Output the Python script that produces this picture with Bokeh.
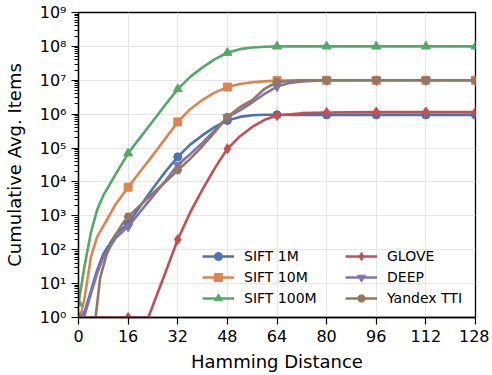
from bokeh.plotting import figure
from bokeh.models import FixedTicker, Legend, LegendItem, Range1d
from bokeh.embed import file_html
from bokeh.resources import INLINE

# ---------------- data ----------------
x_ticks = [0, 16, 32, 48, 64, 80, 96, 112, 128]
y_ticks = [1e0, 1e1, 1e2, 1e3, 1e4, 1e5, 1e6, 1e7, 1e8, 1e9]
y_tick_labels = ["10⁰", "10¹", "10²", "10³", "10⁴", "10⁵", "10⁶", "10⁷", "10⁸", "10⁹"]

labels = ["SIFT 1M", "SIFT 10M", "SIFT 100M", "GLOVE", "DEEP", "Yandex TTI"]

sift1m_x = [0, 2, 4, 6, 8, 12, 16, 20, 24, 28, 32, 36, 40, 44, 48, 52, 56, 60, 64, 72, 80, 96, 112, 128]
sift1m_y = [1, 1.5, 6, 25, 75, 280, 600, 2000, 6500, 2.0e4, 5.5e4, 1.26e5, 2.4e5, 4.2e5,
            6.5e5, 8.3e5, 9.3e5, 9.6e5, 9.6e5, 9.5e5, 9.5e5, 9.5e5, 9.5e5, 9.5e5]

sift10m_x = [0, 1, 2, 4, 6, 8, 12, 16, 20, 24, 28, 32, 36, 40, 44, 48, 52, 56, 60, 64, 72, 80, 96, 112, 128]
sift10m_y = [1, 1.5, 4, 60, 240, 500, 2200, 7000, 2.1e4, 6.2e4, 1.9e5, 5.9e5, 1.4e6, 2.65e6,
             4.4e6, 6.3e6, 7.8e6, 8.7e6, 9.3e6, 9.8e6, 1.0e7, 1.0e7, 1.0e7, 1.0e7, 1.0e7]

sift100m_x = [0, 2, 4, 6, 8, 12, 16, 20, 24, 28, 32, 36, 40, 44, 48, 52, 56, 60, 64, 72, 80, 96, 112, 128]
sift100m_y = [2.6, 35, 320, 1500, 4000, 1.7e4, 7.0e4, 2.1e5, 6.3e5, 1.9e6, 5.5e6, 1.26e7, 2.4e7,
              4.2e7, 6.5e7, 8.3e7, 9.3e7, 9.8e7, 1.0e8, 1.0e8, 1.0e8, 1.0e8, 1.0e8, 1.0e8]

glove_x = [0, 16, 22.5, 24, 28, 32, 36, 40, 44, 48, 52, 56, 60, 64, 72, 80, 96, 112, 128]
glove_y = [1, 1, 1, 2.3, 21, 200, 1260, 6000, 2.6e4, 9.5e4, 2.2e5, 4.2e5, 6.8e5, 9.1e5,
           1.07e6, 1.12e6, 1.15e6, 1.15e6, 1.15e6]

deep_x = [0, 2, 4, 6, 8, 12, 16, 20, 24, 28, 32, 36, 40, 44, 48, 52, 56, 60, 64, 68, 72, 80, 96, 112, 128]
deep_y = [1, 1.2, 5, 20, 60, 220, 480, 1350, 3800, 1.07e4, 3.2e4, 6.6e4, 1.45e5, 3.4e5, 8.0e5,
          1.3e6, 2.2e6, 4.0e6, 6.5e6, 8.3e6, 9.3e6, 1.0e7, 1.0e7, 1.0e7, 1.0e7]

yandex_x = [0, 4, 5.5, 7, 9, 12, 14, 16, 20, 24, 28, 32, 36, 40, 44, 48, 52, 56, 60, 64, 72,
            80, 96, 112, 128]
yandex_y = [1, 1, 1, 15, 70, 280, 550, 950, 2100, 4700, 1.0e4, 2.2e4, 4.8e4, 1.15e5, 3.0e5,
            8.3e5, 1.6e6, 2.6e6, 5.6e6, 8.9e6, 1.0e7, 1.0e7, 1.0e7, 1.0e7, 1.0e7]

series_x = [sift1m_x, sift10m_x, sift100m_x, glove_x, deep_x, yandex_x]
series_y = [sift1m_y, sift10m_y, sift100m_y, glove_y, deep_y, yandex_y]

# ---------------- styling ----------------
colors = ["#4C72B0", "#DD8452", "#55A868", "#C44E52", "#8172B3", "#937860"]
markers = ["circle", "square", "triangle", "diamond", "inverted_triangle", "hex"]
msizes = [8, 8, 9, 10, 9, 8]
FONT = "DejaVu Sans"

p = figure(frame_width=397, frame_height=305,
           x_range=Range1d(0, 128), y_range=Range1d(1, 1e9),
           y_axis_type="log", output_backend="svg", toolbar_location=None,
           min_border_left=76, min_border_right=14, min_border_top=12,
           min_border_bottom=50)

p.background_fill_color = "white"
p.border_fill_color = "white"
p.outline_line_color = "black"
p.outline_line_width = 1.3
p.outline_line_alpha = 1.0

minor = [k * 10 ** e for e in range(0, 9) for k in range(2, 10)]
p.yaxis.ticker = FixedTicker(ticks=y_ticks, minor_ticks=minor)
p.xaxis.ticker = FixedTicker(ticks=x_ticks)
p.yaxis.major_label_overrides = {int(v): s for v, s in zip(y_ticks, y_tick_labels)}

for ax in (p.xaxis, p.yaxis):
    ax.axis_line_width = 1.3
    ax.axis_line_color = "black"
    ax.major_tick_line_width = 1.2
    ax.major_tick_line_color = "black"
    ax.major_tick_out = 7
    ax.major_tick_in = 0
    ax.major_label_text_font = FONT
    ax.major_label_text_font_size = "16px"
    ax.major_label_text_color = "black"
    ax.major_label_standoff = 5
    ax.axis_label_text_font = FONT
    ax.axis_label_text_font_size = "18px"
    ax.axis_label_text_font_style = "normal"
    ax.axis_label_text_color = "black"

p.xaxis.minor_tick_line_color = None
p.yaxis.minor_tick_out = 4
p.yaxis.minor_tick_in = 0
p.yaxis.minor_tick_line_color = "black"
p.yaxis.minor_tick_line_width = 1
p.xaxis.axis_label = "Hamming Distance"
p.yaxis.axis_label = "Cumulative Avg. Items"
p.xaxis.axis_label_standoff = 6
p.yaxis.axis_label_standoff = 12

p.xgrid.grid_line_color = "#e6e6e6"
p.ygrid.grid_line_color = "#e6e6e6"
p.xgrid.grid_line_width = 1
p.ygrid.grid_line_width = 1
p.ygrid.minor_grid_line_color = None

items = []
for lab, xs, ys, c, m, ms in zip(labels, series_x, series_y, colors, markers, msizes):
    ln = p.line(xs, ys, line_color=c, line_width=2.6)
    mx = [x for x in xs if x in x_ticks]
    my = [y for x, y in zip(xs, ys) if x in x_ticks]
    sc = p.scatter(mx, my, marker=m, size=ms, fill_color=c, line_color=c)
    items.append(LegendItem(label=lab, renderers=[ln, sc]))

common = dict(label_text_font=FONT, label_text_font_size="14px",
              label_text_color="black", glyph_width=32, glyph_height=20,
              label_height=20, label_standoff=10, spacing=1, padding=0,
              margin=0, border_line_color=None, background_fill_alpha=0)
leg1 = Legend(items=items[:3], location=(124, 9), **common)
leg2 = Legend(items=items[3:], location=(267, 9), **common)
p.add_layout(leg1, "center")
p.add_layout(leg2, "center")

open("out.html", "w").write(file_html(p, INLINE))
